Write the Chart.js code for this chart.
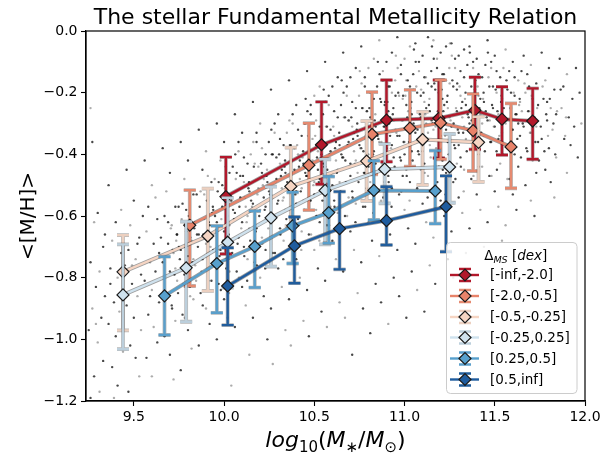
<!DOCTYPE html>
<html><head><meta charset="utf-8">
<script src="https://cdn.jsdelivr.net/npm/chart.js@4.4.1/dist/chart.umd.min.js"></script>
<style>html,body{margin:0;padding:0;background:#fff}#wrap{width:614px;height:455px}</style>
</head><body><div id="wrap"><canvas id="c" width="614" height="455"></canvas></div>
<script>
// ---- axis ticks ----
const xTicks = [9.5, 10.0, 10.5, 11.0, 11.5, 12.0];
const yTicks = [0.0, -0.2, -0.4, -0.6, -0.8, -1.0, -1.2];
// ---- legend labels ----
const seriesLabels = ['[-inf,-2.0]', '[-2.0,-0.5]', '[-0.5,-0.25]', '[-0.25,0.25]', '[0.25,0.5]', '[0.5,inf]'];
// ---- series: binned mean metallicity with asymmetric error bars ----
const s1X = [10.01, 10.54, 10.90, 11.19, 11.39, 11.54, 11.71];
const s1Y = [-0.537, -0.369, -0.289, -0.283, -0.257, -0.286, -0.292];
const s1Hi = [-0.409, -0.230, -0.159, -0.159, -0.150, -0.181, -0.186];
const s1Lo = [-0.723, -0.497, -0.424, -0.412, -0.384, -0.402, -0.416];

const s2X = [9.81, 10.47, 10.82, 11.03, 11.20, 11.38, 11.59];
const s2Y = [-0.630, -0.435, -0.335, -0.315, -0.298, -0.323, -0.376];
const s2Hi = [-0.516, -0.299, -0.198, -0.191, -0.159, -0.204, -0.235];
const s2Lo = [-0.827, -0.581, -0.465, -0.440, -0.416, -0.454, -0.510];

const s3X = [9.44, 9.91, 10.37, 10.79, 11.10, 11.41];
const s3Y = [-0.781, -0.665, -0.504, -0.422, -0.352, -0.361];
const s3Hi = [-0.662, -0.511, -0.378, -0.292, -0.262, -0.278];
const s3Lo = [-0.971, -0.843, -0.632, -0.551, -0.499, -0.489];

const s4X = [9.44, 9.79, 10.02, 10.26, 10.56, 10.89, 11.25];
const s4Y = [-0.856, -0.768, -0.685, -0.606, -0.517, -0.448, -0.441];
const s4Hi = [-0.692, -0.618, -0.541, -0.505, -0.416, -0.366, -0.334];
const s4Lo = [-1.032, -0.943, -0.832, -0.764, -0.692, -0.559, -0.557];

const s5X = [9.67, 9.96, 10.17, 10.38, 10.58, 10.83, 11.17];
const s5Y = [-0.859, -0.754, -0.699, -0.632, -0.589, -0.517, -0.519];
const s5Hi = [-0.732, -0.632, -0.584, -0.523, -0.472, -0.421, -0.388];
const s5Lo = [-0.986, -0.914, -0.832, -0.754, -0.688, -0.613, -0.625];

const s6X = [10.02, 10.39, 10.64, 10.90, 11.23];
const s6Y = [-0.827, -0.697, -0.641, -0.615, -0.570];
const s6Hi = [-0.703, -0.603, -0.521, -0.505, -0.470];
const s6Lo = [-0.954, -0.818, -0.773, -0.694, -0.716];

// ---- background galaxies: wide cloud (estimated positions) ----
const bgPoints = [
[9.26,-0.25],[9.27,-0.36],[9.30,-0.59],[9.28,-0.62],[9.33,-0.70],[9.26,-0.75],[9.31,-0.78],[9.29,-0.83],[9.34,-0.86],[9.27,-0.90],[9.32,-0.93],[9.25,-0.97],[9.30,-1.01],[9.33,-1.07],[9.28,-1.12],[9.31,-1.17],[9.26,-1.19],[9.34,-0.66],[9.29,-0.95],
[9.36,-0.50],[9.40,-0.62],[9.38,-0.68],[9.43,-0.72],[9.37,-0.77],[9.41,-0.80],[9.44,-0.84],[9.39,-0.88],[9.42,-0.91],[9.36,-0.95],[9.40,-0.99],[9.44,-1.04],[9.38,-1.09],[9.41,-1.15],[9.43,-0.58],[9.37,-0.82],[9.45,-0.76],[9.39,-1.19],
[9.46,-0.45],[9.50,-0.55],[9.48,-0.63],[9.53,-0.67],[9.47,-0.71],[9.51,-0.74],[9.54,-0.79],[9.49,-0.82],[9.52,-0.86],[9.46,-0.89],[9.50,-0.93],[9.54,-0.97],[9.48,-1.02],[9.51,-1.06],[9.53,-1.12],[9.47,-1.17],[9.55,-0.60],[9.49,-0.76],[9.52,-0.69],
[9.56,-0.42],[9.60,-0.50],[9.58,-0.57],[9.63,-0.61],[9.57,-0.65],[9.61,-0.69],[9.64,-0.72],[9.59,-0.75],[9.62,-0.78],[9.56,-0.81],[9.60,-0.84],[9.64,-0.88],[9.58,-0.92],[9.61,-0.96],[9.63,-1.01],[9.57,-1.06],[9.60,-1.12],[9.65,-0.67],[9.59,-0.86],[9.62,-0.54],
[9.66,-0.38],[9.70,-0.46],[9.68,-0.52],[9.73,-0.57],[9.67,-0.60],[9.71,-0.63],[9.74,-0.66],[9.69,-0.69],[9.72,-0.72],[9.66,-0.75],[9.70,-0.78],[9.74,-0.81],[9.68,-0.85],[9.71,-0.89],[9.73,-0.94],[9.67,-0.99],[9.70,-1.05],[9.72,-1.13],[9.75,-0.70],[9.69,-0.62],[9.73,-0.77],
[9.76,-0.36],[9.80,-0.42],[9.78,-0.48],[9.83,-0.53],[9.77,-0.56],[9.81,-0.59],[9.84,-0.62],[9.79,-0.65],[9.82,-0.68],[9.76,-0.71],[9.80,-0.73],[9.84,-0.76],[9.78,-0.79],[9.81,-0.83],[9.83,-0.87],[9.77,-0.92],[9.80,-0.97],[9.82,-1.03],[9.85,-0.66],[9.79,-0.58],[9.83,-0.74],[9.76,-1.10],
[9.86,-0.32],[9.90,-0.39],[9.88,-0.45],[9.93,-0.49],[9.87,-0.52],[9.91,-0.55],[9.94,-0.58],[9.89,-0.61],[9.92,-0.63],[9.86,-0.66],[9.90,-0.69],[9.94,-0.71],[9.88,-0.74],[9.91,-0.77],[9.93,-0.81],[9.87,-0.85],[9.90,-0.90],[9.92,-0.95],[9.95,-0.60],[9.89,-0.53],[9.93,-0.67],[9.86,-1.02],[9.91,-0.47],
[9.96,-0.30],[10.00,-0.36],[9.98,-0.42],[10.03,-0.46],[9.97,-0.49],[10.01,-0.52],[10.04,-0.55],[9.99,-0.57],[10.02,-0.60],[9.96,-0.62],[10.00,-0.65],[10.04,-0.68],[9.98,-0.71],[10.01,-0.74],[10.03,-0.78],[9.97,-0.82],[10.00,-0.87],[10.02,-0.93],[10.05,-0.58],[9.99,-0.50],[10.03,-0.63],[9.96,-1.00],[10.01,-0.44],[10.04,-1.15],
[10.06,-0.27],[10.10,-0.33],[10.08,-0.39],[10.13,-0.43],[10.07,-0.46],[10.11,-0.49],[10.14,-0.52],[10.09,-0.54],[10.12,-0.57],[10.06,-0.59],[10.10,-0.62],[10.14,-0.64],[10.08,-0.67],[10.11,-0.70],[10.13,-0.74],[10.07,-0.78],[10.10,-0.83],[10.12,-0.89],[10.15,-0.55],[10.09,-0.47],[10.13,-0.60],[10.06,-0.96],[10.11,-0.41],[10.14,-1.05],[10.08,-0.36],
[10.16,-0.23],[10.20,-0.30],[10.18,-0.36],[10.23,-0.40],[10.17,-0.43],[10.21,-0.46],[10.24,-0.49],[10.19,-0.51],[10.22,-0.54],[10.16,-0.56],[10.20,-0.58],[10.24,-0.61],[10.18,-0.64],[10.21,-0.67],[10.23,-0.71],[10.17,-0.75],[10.20,-0.80],[10.22,-0.86],[10.25,-0.52],[10.19,-0.44],[10.23,-0.57],[10.16,-0.93],[10.21,-0.38],[10.24,-1.00],[10.18,-0.33],[10.22,-0.48],
[10.26,-0.19],[10.30,-0.27],[10.28,-0.33],[10.33,-0.37],[10.27,-0.40],[10.31,-0.43],[10.34,-0.46],[10.29,-0.48],[10.32,-0.51],[10.26,-0.53],[10.30,-0.55],[10.34,-0.58],[10.28,-0.61],[10.31,-0.64],[10.33,-0.68],[10.27,-0.72],[10.30,-0.77],[10.32,-0.83],[10.35,-0.49],[10.29,-0.41],[10.33,-0.54],[10.26,-0.90],[10.31,-0.35],[10.34,-0.97],[10.28,-0.30],[10.32,-0.45],[10.27,-1.08],
[10.36,-0.16],[10.40,-0.24],[10.38,-0.30],[10.43,-0.34],[10.37,-0.37],[10.41,-0.40],[10.44,-0.43],[10.39,-0.45],[10.42,-0.48],[10.36,-0.50],[10.40,-0.52],[10.44,-0.55],[10.38,-0.58],[10.41,-0.61],[10.43,-0.65],[10.37,-0.69],[10.40,-0.74],[10.42,-0.80],[10.45,-0.46],[10.39,-0.38],[10.43,-0.51],[10.36,-0.87],[10.41,-0.32],[10.44,-0.94],[10.38,-0.27],[10.42,-0.42],[10.37,-1.02],[10.40,-0.56],
[10.46,-0.13],[10.50,-0.21],[10.48,-0.27],[10.53,-0.31],[10.47,-0.34],[10.51,-0.37],[10.54,-0.40],[10.49,-0.42],[10.52,-0.45],[10.46,-0.47],[10.50,-0.49],[10.54,-0.52],[10.48,-0.55],[10.51,-0.58],[10.53,-0.62],[10.47,-0.66],[10.50,-0.71],[10.52,-0.77],[10.55,-0.43],[10.49,-0.35],[10.53,-0.48],[10.46,-0.84],[10.51,-0.29],[10.54,-0.91],[10.48,-0.24],[10.52,-0.39],[10.47,-0.99],[10.50,-0.53],[10.53,-0.18],
[10.56,-0.10],[10.60,-0.18],[10.58,-0.24],[10.63,-0.28],[10.57,-0.31],[10.61,-0.34],[10.64,-0.37],[10.59,-0.39],[10.62,-0.42],[10.56,-0.44],[10.60,-0.46],[10.64,-0.49],[10.58,-0.52],[10.61,-0.55],[10.63,-0.59],[10.57,-0.63],[10.60,-0.68],[10.62,-0.74],[10.65,-0.40],[10.59,-0.32],[10.63,-0.45],[10.56,-0.81],[10.61,-0.26],[10.64,-0.88],[10.58,-0.21],[10.62,-0.36],[10.57,-0.96],[10.60,-0.50],[10.63,-0.15],[10.59,-0.57],
[10.66,-0.07],[10.70,-0.15],[10.68,-0.21],[10.73,-0.25],[10.67,-0.28],[10.71,-0.31],[10.74,-0.34],[10.69,-0.36],[10.72,-0.39],[10.66,-0.41],[10.70,-0.43],[10.74,-0.46],[10.68,-0.49],[10.71,-0.52],[10.73,-0.56],[10.67,-0.60],[10.70,-0.65],[10.72,-0.71],[10.75,-0.37],[10.69,-0.29],[10.73,-0.42],[10.66,-0.78],[10.71,-0.23],[10.74,-0.85],[10.68,-0.18],[10.72,-0.33],[10.67,-0.93],[10.70,-0.47],[10.73,-0.12],[10.69,-0.54],[10.71,-1.05],
[10.76,-0.05],[10.80,-0.12],[10.78,-0.18],[10.83,-0.22],[10.77,-0.25],[10.81,-0.28],[10.84,-0.31],[10.79,-0.33],[10.82,-0.36],[10.76,-0.38],[10.80,-0.40],[10.84,-0.43],[10.78,-0.46],[10.81,-0.49],[10.83,-0.53],[10.77,-0.57],[10.80,-0.62],[10.82,-0.68],[10.85,-0.34],[10.79,-0.26],[10.83,-0.39],[10.76,-0.75],[10.81,-0.20],[10.84,-0.82],[10.78,-0.15],[10.82,-0.30],[10.77,-0.90],[10.80,-0.44],[10.83,-0.09],[10.79,-0.51],[10.81,-0.98],
[10.86,-0.03],[10.90,-0.10],[10.88,-0.16],[10.93,-0.20],[10.87,-0.23],[10.91,-0.26],[10.94,-0.29],[10.89,-0.31],[10.92,-0.34],[10.86,-0.36],[10.90,-0.38],[10.94,-0.41],[10.88,-0.44],[10.91,-0.47],[10.93,-0.51],[10.87,-0.55],[10.90,-0.60],[10.92,-0.66],[10.95,-0.32],[10.89,-0.24],[10.93,-0.37],[10.86,-0.73],[10.91,-0.18],[10.94,-0.80],[10.88,-0.13],[10.92,-0.28],[10.87,-0.88],[10.90,-0.42],[10.93,-0.07],[10.89,-0.49],[10.91,-0.95],[10.95,-0.21],
[10.96,-0.02],[11.00,-0.09],[10.98,-0.14],[11.03,-0.18],[10.97,-0.21],[11.01,-0.24],[11.04,-0.27],[10.99,-0.29],[11.02,-0.32],[10.96,-0.34],[11.00,-0.36],[11.04,-0.39],[10.98,-0.42],[11.01,-0.45],[11.03,-0.49],[10.97,-0.53],[11.00,-0.58],[11.02,-0.64],[11.05,-0.30],[10.99,-0.22],[11.03,-0.35],[10.96,-0.71],[11.01,-0.16],[11.04,-0.78],[10.98,-0.11],[11.02,-0.26],[10.97,-0.86],[11.00,-0.40],[11.03,-0.05],[10.99,-0.47],[11.01,-0.93],[11.05,-0.19],
[11.06,-0.04],[11.10,-0.08],[11.08,-0.13],[11.13,-0.17],[11.07,-0.20],[11.11,-0.23],[11.14,-0.26],[11.09,-0.28],[11.12,-0.30],[11.06,-0.33],[11.10,-0.35],[11.14,-0.37],[11.08,-0.40],[11.11,-0.43],[11.13,-0.47],[11.07,-0.51],[11.10,-0.56],[11.12,-0.62],[11.15,-0.29],[11.09,-0.21],[11.13,-0.33],[11.06,-0.69],[11.11,-0.15],[11.14,-0.76],[11.08,-0.10],[11.12,-0.25],[11.07,-0.84],[11.10,-0.39],[11.13,-0.02],[11.09,-0.45],[11.11,-0.91],[11.15,-0.18],
[11.16,-0.03],[11.20,-0.07],[11.18,-0.12],[11.23,-0.16],[11.17,-0.19],[11.21,-0.22],[11.24,-0.25],[11.19,-0.27],[11.22,-0.29],[11.16,-0.32],[11.20,-0.34],[11.24,-0.36],[11.18,-0.39],[11.21,-0.42],[11.23,-0.46],[11.17,-0.50],[11.20,-0.55],[11.22,-0.60],[11.25,-0.28],[11.19,-0.20],[11.23,-0.32],[11.16,-0.67],[11.21,-0.14],[11.24,-0.74],[11.18,-0.09],[11.22,-0.24],[11.17,-0.82],[11.20,-0.38],[11.23,-0.05],[11.19,-0.44],[11.25,-0.17],
[11.26,-0.04],[11.30,-0.08],[11.28,-0.12],[11.33,-0.15],[11.27,-0.18],[11.31,-0.21],[11.34,-0.24],[11.29,-0.26],[11.32,-0.28],[11.26,-0.31],[11.30,-0.33],[11.34,-0.35],[11.28,-0.38],[11.31,-0.41],[11.33,-0.45],[11.27,-0.49],[11.30,-0.54],[11.32,-0.59],[11.35,-0.27],[11.29,-0.19],[11.33,-0.31],[11.26,-0.65],[11.31,-0.13],[11.34,-0.72],[11.28,-0.09],[11.32,-0.23],[11.27,-0.80],[11.30,-0.37],[11.33,-0.06],[11.29,-0.43],
[11.36,-0.05],[11.40,-0.09],[11.38,-0.12],[11.43,-0.15],[11.37,-0.18],[11.41,-0.21],[11.44,-0.23],[11.39,-0.25],[11.42,-0.27],[11.36,-0.30],[11.40,-0.32],[11.44,-0.34],[11.38,-0.37],[11.41,-0.40],[11.43,-0.44],[11.37,-0.48],[11.40,-0.53],[11.42,-0.58],[11.45,-0.26],[11.39,-0.19],[11.43,-0.30],[11.36,-0.64],[11.41,-0.14],[11.44,-0.70],[11.38,-0.10],[11.42,-0.22],[11.40,-0.36],
[11.46,-0.03],[11.50,-0.08],[11.48,-0.12],[11.53,-0.15],[11.47,-0.18],[11.51,-0.20],[11.54,-0.22],[11.49,-0.25],[11.52,-0.27],[11.46,-0.29],[11.50,-0.31],[11.54,-0.33],[11.48,-0.36],[11.51,-0.39],[11.53,-0.43],[11.47,-0.47],[11.50,-0.52],[11.52,-0.57],[11.55,-0.25],[11.49,-0.18],[11.53,-0.29],[11.46,-0.62],[11.51,-0.13],[11.54,-0.68],[11.48,-0.10],[11.52,-0.35],
[11.56,-0.06],[11.60,-0.10],[11.58,-0.13],[11.63,-0.16],[11.57,-0.19],[11.61,-0.21],[11.64,-0.23],[11.59,-0.25],[11.62,-0.27],[11.56,-0.30],[11.60,-0.32],[11.64,-0.34],[11.58,-0.37],[11.61,-0.40],[11.63,-0.44],[11.57,-0.48],[11.60,-0.53],[11.62,-0.58],[11.65,-0.26],[11.59,-0.20],[11.63,-0.30],[11.56,-0.63],[11.61,-0.15],
[11.66,-0.08],[11.70,-0.11],[11.68,-0.14],[11.73,-0.17],[11.67,-0.20],[11.71,-0.22],[11.74,-0.24],[11.69,-0.26],[11.72,-0.28],[11.66,-0.31],[11.70,-0.33],[11.74,-0.36],[11.68,-0.39],[11.71,-0.42],[11.73,-0.46],[11.67,-0.50],[11.70,-0.55],[11.72,-0.60],[11.69,-0.18],[11.73,-0.31],
[11.76,-0.07],[11.80,-0.12],[11.78,-0.16],[11.83,-0.19],[11.77,-0.22],[11.81,-0.25],[11.84,-0.27],[11.79,-0.29],[11.82,-0.32],[11.76,-0.35],[11.80,-0.38],[11.84,-0.41],[11.78,-0.45],[11.81,-0.49],[11.83,-0.54],[11.79,-0.23],
[11.86,-0.09],[11.90,-0.14],[11.88,-0.18],[11.93,-0.22],[11.87,-0.25],[11.91,-0.28],[11.94,-0.31],[11.89,-0.34],[11.92,-0.37],[11.96,-0.41],[11.90,-0.46],[11.97,-0.20],[11.95,-0.12],[11.98,-0.30]
];
// ---- background galaxies: dense core along the relation ----
const bgCore = [
[9.705,-0.64],[9.715,-0.71],[9.725,-0.79],[9.735,-0.68],[9.745,-0.85],[9.755,-0.74],[9.765,-0.61],[9.775,-0.82],[9.785,-0.70],[9.795,-0.77],[9.712,-0.90],[9.748,-0.57],[9.782,-0.93],[9.738,-0.66],
[9.805,-0.60],[9.815,-0.67],[9.825,-0.75],[9.835,-0.64],[9.845,-0.81],[9.855,-0.70],[9.865,-0.57],[9.875,-0.78],[9.885,-0.66],[9.895,-0.73],[9.812,-0.86],[9.848,-0.53],[9.882,-0.89],[9.838,-0.62],
[9.905,-0.55],[9.915,-0.62],[9.925,-0.70],[9.935,-0.59],[9.945,-0.76],[9.955,-0.65],[9.965,-0.52],[9.975,-0.73],[9.985,-0.61],[9.995,-0.68],[9.912,-0.81],[9.948,-0.48],[9.982,-0.84],[9.938,-0.57],
[10.005,-0.51],[10.015,-0.58],[10.025,-0.66],[10.035,-0.55],[10.045,-0.72],[10.055,-0.61],[10.065,-0.48],[10.075,-0.69],[10.085,-0.57],[10.095,-0.64],[10.012,-0.77],[10.048,-0.44],[10.082,-0.80],[10.038,-0.53],[10.062,-0.40],[10.028,-0.85],
[10.105,-0.47],[10.115,-0.54],[10.125,-0.62],[10.135,-0.51],[10.145,-0.68],[10.155,-0.57],[10.165,-0.44],[10.175,-0.65],[10.185,-0.53],[10.195,-0.60],[10.112,-0.73],[10.148,-0.40],[10.182,-0.76],[10.138,-0.49],[10.162,-0.36],[10.128,-0.81],
[10.205,-0.43],[10.215,-0.50],[10.225,-0.58],[10.235,-0.47],[10.245,-0.64],[10.255,-0.53],[10.265,-0.40],[10.275,-0.61],[10.285,-0.49],[10.295,-0.56],[10.212,-0.69],[10.248,-0.36],[10.282,-0.72],[10.238,-0.45],[10.262,-0.32],[10.228,-0.77],[10.272,-0.54],
[10.305,-0.40],[10.315,-0.47],[10.325,-0.55],[10.335,-0.44],[10.345,-0.61],[10.355,-0.50],[10.365,-0.37],[10.375,-0.58],[10.385,-0.46],[10.395,-0.53],[10.312,-0.66],[10.348,-0.33],[10.382,-0.69],[10.338,-0.42],[10.362,-0.29],[10.328,-0.74],[10.372,-0.51],
[10.405,-0.37],[10.415,-0.44],[10.425,-0.52],[10.435,-0.41],[10.445,-0.58],[10.455,-0.47],[10.465,-0.34],[10.475,-0.55],[10.485,-0.43],[10.495,-0.50],[10.412,-0.63],[10.448,-0.30],[10.482,-0.66],[10.438,-0.39],[10.462,-0.26],[10.428,-0.71],[10.472,-0.48],[10.452,-0.22],
[10.505,-0.34],[10.515,-0.41],[10.525,-0.49],[10.535,-0.38],[10.545,-0.55],[10.555,-0.44],[10.565,-0.31],[10.575,-0.52],[10.585,-0.40],[10.595,-0.47],[10.512,-0.60],[10.548,-0.27],[10.582,-0.63],[10.538,-0.36],[10.562,-0.23],[10.528,-0.68],[10.572,-0.45],[10.552,-0.19],
[10.605,-0.31],[10.615,-0.38],[10.625,-0.46],[10.635,-0.35],[10.645,-0.52],[10.655,-0.41],[10.665,-0.28],[10.675,-0.49],[10.685,-0.37],[10.695,-0.44],[10.612,-0.57],[10.648,-0.24],[10.682,-0.60],[10.638,-0.33],[10.662,-0.20],[10.628,-0.65],[10.672,-0.42],[10.652,-0.16],[10.692,-0.29],
[10.705,-0.28],[10.715,-0.35],[10.725,-0.43],[10.735,-0.32],[10.745,-0.49],[10.755,-0.38],[10.765,-0.25],[10.775,-0.46],[10.785,-0.34],[10.795,-0.41],[10.712,-0.54],[10.748,-0.21],[10.782,-0.57],[10.738,-0.30],[10.762,-0.17],[10.728,-0.62],[10.772,-0.39],[10.752,-0.13],[10.792,-0.26],
[10.805,-0.25],[10.815,-0.32],[10.825,-0.40],[10.835,-0.29],[10.845,-0.46],[10.855,-0.35],[10.865,-0.22],[10.875,-0.43],[10.885,-0.31],[10.895,-0.38],[10.812,-0.51],[10.848,-0.18],[10.882,-0.54],[10.838,-0.27],[10.862,-0.14],[10.828,-0.59],[10.872,-0.36],[10.852,-0.10],[10.892,-0.23],[10.818,-0.20],
[10.905,-0.23],[10.915,-0.30],[10.925,-0.38],[10.935,-0.27],[10.945,-0.44],[10.955,-0.33],[10.965,-0.20],[10.975,-0.41],[10.985,-0.29],[10.995,-0.36],[10.912,-0.49],[10.948,-0.16],[10.982,-0.52],[10.938,-0.25],[10.962,-0.12],[10.928,-0.57],[10.972,-0.34],[10.952,-0.08],[10.992,-0.21],[10.918,-0.18],
[11.005,-0.21],[11.015,-0.28],[11.025,-0.36],[11.035,-0.25],[11.045,-0.42],[11.055,-0.31],[11.065,-0.18],[11.075,-0.39],[11.085,-0.27],[11.095,-0.34],[11.012,-0.47],[11.048,-0.14],[11.082,-0.50],[11.038,-0.23],[11.062,-0.10],[11.028,-0.55],[11.072,-0.32],[11.052,-0.06],[11.092,-0.19],[11.018,-0.16],
[11.105,-0.20],[11.115,-0.27],[11.125,-0.35],[11.135,-0.24],[11.145,-0.41],[11.155,-0.30],[11.165,-0.17],[11.175,-0.38],[11.185,-0.26],[11.195,-0.33],[11.112,-0.46],[11.148,-0.13],[11.182,-0.49],[11.138,-0.22],[11.162,-0.09],[11.128,-0.54],[11.172,-0.31],[11.152,-0.05],[11.192,-0.18],[11.118,-0.15],
[11.205,-0.19],[11.215,-0.26],[11.225,-0.34],[11.235,-0.23],[11.245,-0.40],[11.255,-0.29],[11.265,-0.16],[11.275,-0.37],[11.285,-0.25],[11.295,-0.32],[11.212,-0.45],[11.248,-0.12],[11.282,-0.48],[11.238,-0.21],[11.262,-0.08],[11.228,-0.53],[11.272,-0.30],[11.252,-0.04],[11.292,-0.17],[11.218,-0.14],
[11.305,-0.18],[11.315,-0.25],[11.325,-0.33],[11.335,-0.22],[11.345,-0.39],[11.355,-0.28],[11.365,-0.15],[11.375,-0.36],[11.385,-0.24],[11.395,-0.31],[11.312,-0.44],[11.348,-0.11],[11.382,-0.47],[11.338,-0.20],[11.362,-0.07],[11.328,-0.52],[11.372,-0.29],[11.392,-0.16],
[11.405,-0.18],[11.415,-0.25],[11.425,-0.33],[11.435,-0.22],[11.445,-0.39],[11.455,-0.28],[11.465,-0.15],[11.475,-0.36],[11.485,-0.24],[11.495,-0.31],[11.412,-0.44],[11.448,-0.11],[11.482,-0.47],[11.438,-0.20],[11.462,-0.07],[11.472,-0.29],
[11.505,-0.19],[11.515,-0.26],[11.525,-0.34],[11.535,-0.23],[11.545,-0.40],[11.555,-0.29],[11.565,-0.16],[11.575,-0.37],[11.585,-0.25],[11.595,-0.32],[11.512,-0.45],[11.548,-0.12],[11.582,-0.48],[11.538,-0.21],
[11.605,-0.20],[11.615,-0.27],[11.625,-0.35],[11.635,-0.24],[11.645,-0.41],[11.655,-0.30],[11.665,-0.17],[11.675,-0.38],[11.685,-0.26],[11.695,-0.33],[11.648,-0.13],[11.638,-0.22],
[11.705,-0.21],[11.715,-0.28],[11.725,-0.36],[11.735,-0.25],[11.745,-0.42],[11.755,-0.31],[11.765,-0.18],[11.775,-0.39],[11.785,-0.27],[11.795,-0.34],
[11.805,-0.22],[11.825,-0.30],[11.845,-0.26],[11.865,-0.19],[11.885,-0.35],[11.895,-0.28],[11.835,-0.40]
];

// ---- styling ----
const FONT = "'DejaVu Sans', 'Liberation Sans', sans-serif";
const seriesColors = ['#b2182b', '#e8836a', '#f6d5c3', '#cfe2ee', '#57a0cd', '#1f5c9e'];
const barColors = ['#b2182b', '#e58a70', '#ecd0c0', '#bccfdc', '#5a9fcb', '#215d9c'];

const seriesX = [s1X, s2X, s3X, s4X, s5X, s6X];
const seriesY = [s1Y, s2Y, s3Y, s4Y, s5Y, s6Y];
const seriesHi = [s1Hi, s2Hi, s3Hi, s4Hi, s5Hi, s6Hi];
const seriesLo = [s1Lo, s2Lo, s3Lo, s4Lo, s5Lo, s6Lo];

const dotColor = (c) => (c.dataIndex % 3 === 0 ? 'rgba(90,90,90,0.5)' : 'rgba(20,20,20,0.78)');
const datasets = [{
  label: 'bg',
  data: bgPoints.map(p => ({x: p[0], y: p[1]})),
  pointRadius: 1.2, pointHoverRadius: 0, pointBorderWidth: 0,
  backgroundColor: dotColor, showLine: false, order: 11
}, {
  label: 'bgCore',
  data: bgCore.map(p => ({x: p[0], y: p[1]})),
  pointRadius: 1.2, pointHoverRadius: 0, pointBorderWidth: 0,
  backgroundColor: dotColor, showLine: false, order: 10
}];
for (let k = 0; k < 6; k++) {
  datasets.push({
    label: seriesLabels[k],
    data: seriesX[k].map((x, i) => ({x: x, y: seriesY[k][i]})),
    errHi: seriesHi[k],
    errLo: seriesLo[k],
    barColor: barColors[k],
    showLine: true,
    tension: 0,
    borderColor: seriesColors[k],
    borderWidth: 2.4,
    pointStyle: 'rectRot',
    pointRadius: 6,
    pointHoverRadius: 6,
    pointBackgroundColor: seriesColors[k],
    pointBorderColor: '#1a1a1a',
    pointBorderWidth: 1.2,
    order: 6 - k
  });
}

const CAP = 6;
const errPlugin = {
  id: 'errbars',
  beforeDatasetDraw(chart, args) {
    const ds = chart.data.datasets[args.index];
    if (!ds.errHi) return;
    const ctx = chart.ctx, xs = chart.scales.x, ys = chart.scales.y;
    const pts = ds.data.map((p, i) => ({
      x: xs.getPixelForValue(p.x), y: ys.getPixelForValue(p.y),
      hi: ys.getPixelForValue(ds.errHi[i]), lo: ys.getPixelForValue(ds.errLo[i])
    }));
    ctx.save();
    for (let pass = 0; pass < 2; pass++) {
      ctx.strokeStyle = pass ? ds.barColor : 'rgba(50,50,50,0.35)';
      ctx.lineWidth = pass ? 2.4 : 3.8;
      ctx.beginPath();
      pts.forEach(p => {
        ctx.moveTo(p.x, p.hi); ctx.lineTo(p.x, p.lo);
        ctx.moveTo(p.x - CAP, p.hi); ctx.lineTo(p.x + CAP, p.hi);
        ctx.moveTo(p.x - CAP, p.lo); ctx.lineTo(p.x + CAP, p.lo);
      });
      ctx.stroke();
    }
    // dark halo under the connecting line
    ctx.strokeStyle = 'rgba(40,40,40,0.45)';
    ctx.lineWidth = 4;
    ctx.lineJoin = 'round';
    ctx.beginPath();
    pts.forEach((p, i) => { if (i) ctx.lineTo(p.x, p.y); else ctx.moveTo(p.x, p.y); });
    ctx.stroke();
    ctx.restore();
  }
};

function drawDiamond(ctx, x, y, r, fill) {
  ctx.beginPath();
  ctx.moveTo(x - r, y); ctx.lineTo(x, y - r); ctx.lineTo(x + r, y); ctx.lineTo(x, y + r); ctx.closePath();
  ctx.fillStyle = fill; ctx.fill();
  ctx.strokeStyle = '#1a1a1a'; ctx.lineWidth = 1.2; ctx.stroke();
}

const decoPlugin = {
  id: 'deco',
  afterDraw(chart) {
    const ctx = chart.ctx, a = chart.chartArea;
    ctx.save();
    // frame (top/right spines)
    ctx.strokeStyle = '#000'; ctx.lineWidth = 1.2;
    ctx.strokeRect(a.left, a.top, a.right - a.left, a.bottom - a.top);
    // title
    ctx.fillStyle = '#000';
    ctx.textAlign = 'center'; ctx.textBaseline = 'alphabetic';
    ctx.font = '22px ' + FONT;
    ctx.fillText('The stellar Fundamental Metallicity Relation', (a.left + a.right) / 2, 24);
    // y-axis label
    ctx.save();
    ctx.translate(34, (a.top + a.bottom) / 2);
    ctx.rotate(-Math.PI / 2);
    ctx.font = '20px ' + FONT;
    ctx.fillText('<[M/H]>', 0, 0);
    ctx.restore();
    // x-axis label with sub-scripts
    const parts = [
      {t: 'log', f: 'italic 22px ' + FONT, dy: 0},
      {t: '10', f: '15px ' + FONT, dy: 5},
      {t: '(', f: '22px ' + FONT, dy: 0},
      {t: 'M', f: 'italic 22px ' + FONT, dy: 0},
      {t: '\u2217', f: '15px ' + FONT, dy: 5},
      {t: '/', f: '22px ' + FONT, dy: 0},
      {t: 'M', f: 'italic 22px ' + FONT, dy: 0},
      {t: '\u2299', f: '15px ' + FONT, dy: 5},
      {t: ')', f: '22px ' + FONT, dy: 0}
    ];
    let tot = 0;
    parts.forEach(p => { ctx.font = p.f; p.w = ctx.measureText(p.t).width; tot += p.w; });
    let x = (a.left + a.right) / 2 - tot / 2;
    ctx.textAlign = 'left';
    parts.forEach(p => { ctx.font = p.f; ctx.fillText(p.t, x, 447 + p.dy); x += p.w; });

    // legend
    const L = {x: 446.5, y: 242.5, w: 130.5, h: 151};
    ctx.beginPath();
    ctx.roundRect(L.x, L.y, L.w, L.h, 4);
    ctx.fillStyle = 'rgba(255,255,255,0.82)'; ctx.fill();
    ctx.strokeStyle = '#cccccc'; ctx.lineWidth = 1; ctx.stroke();
    // legend title: Delta_MS [dex]
    const tparts = [
      {t: '\u0394', f: '13.5px ' + FONT, dy: 0},
      {t: 'MS', f: 'italic 9.5px ' + FONT, dy: 3},
      {t: ' [', f: '13.5px ' + FONT, dy: 0},
      {t: 'dex', f: 'italic 13.5px ' + FONT, dy: 0},
      {t: ']', f: '13.5px ' + FONT, dy: 0}
    ];
    tot = 0;
    tparts.forEach(p => { ctx.font = p.f; p.w = ctx.measureText(p.t).width; tot += p.w; });
    x = L.x + L.w / 2 - tot / 2 + 4;
    ctx.fillStyle = '#000';
    tparts.forEach(p => { ctx.font = p.f; ctx.fillText(p.t, x, 260 + p.dy); x += p.w; });
    // entries
    const rowY = [275, 296, 317, 337.5, 358.5, 379.5];
    for (let k = 0; k < 6; k++) {
      const cy = rowY[k], cx = 465;
      ctx.strokeStyle = barColors[k]; ctx.lineWidth = 2.4;
      ctx.beginPath();
      ctx.moveTo(cx, cy - 6); ctx.lineTo(cx, cy + 6);
      ctx.moveTo(cx - CAP, cy - 6); ctx.lineTo(cx + CAP, cy - 6);
      ctx.moveTo(cx - CAP, cy + 6); ctx.lineTo(cx + CAP, cy + 6);
      ctx.stroke();
      ctx.strokeStyle = seriesColors[k]; ctx.lineWidth = 2.4;
      ctx.beginPath(); ctx.moveTo(450, cy); ctx.lineTo(479, cy); ctx.stroke();
      drawDiamond(ctx, cx, cy, 6, seriesColors[k]);
      ctx.fillStyle = '#000';
      ctx.font = '13.5px ' + FONT;
      ctx.textBaseline = 'middle';
      ctx.fillText(seriesLabels[k], 490, cy + 0.5);
      ctx.textBaseline = 'alphabetic';
    }
    ctx.restore();
  }
};

const fmt = v => { const s = Math.abs(v).toFixed(1); return (v < -1e-9 ? '\u2212' : '') + s; };

new Chart(document.getElementById('c'), {
  type: 'scatter',
  data: {datasets},
  options: {
    responsive: false,
    devicePixelRatio: 1,
    animation: false,
    events: [],
    layout: {padding: {left: 0, right: 29, top: 31, bottom: 0}},
    plugins: {legend: {display: false}, tooltip: {enabled: false}, title: {display: false}},
    scales: {
      x: {
        type: 'linear', min: 9.235, max: 12.0,
        afterBuildTicks: s => { s.ticks = xTicks.map(v => ({value: v})); },
        afterFit: s => { s.height = 54; },
        ticks: {font: {size: 14, family: FONT}, color: '#000', padding: 3, maxRotation: 0, callback: v => fmt(v)},
        grid: {drawOnChartArea: false, drawTicks: true, tickLength: 5, color: '#000', tickWidth: 1.1},
        border: {display: true, color: '#000', width: 1.2}
      },
      y: {
        type: 'linear', min: -1.2, max: 0.0,
        afterBuildTicks: s => { s.ticks = yTicks.map(v => ({value: v})); },
        afterFit: s => { s.width = 86; },
        ticks: {font: {size: 14, family: FONT}, color: '#000', padding: 3.5, callback: v => fmt(v)},
        grid: {drawOnChartArea: false, drawTicks: true, tickLength: 5, color: '#000', tickWidth: 1.1},
        border: {display: true, color: '#000', width: 1.2}
      }
    }
  },
  plugins: [errPlugin, decoPlugin]
});
</script>
</body></html>
